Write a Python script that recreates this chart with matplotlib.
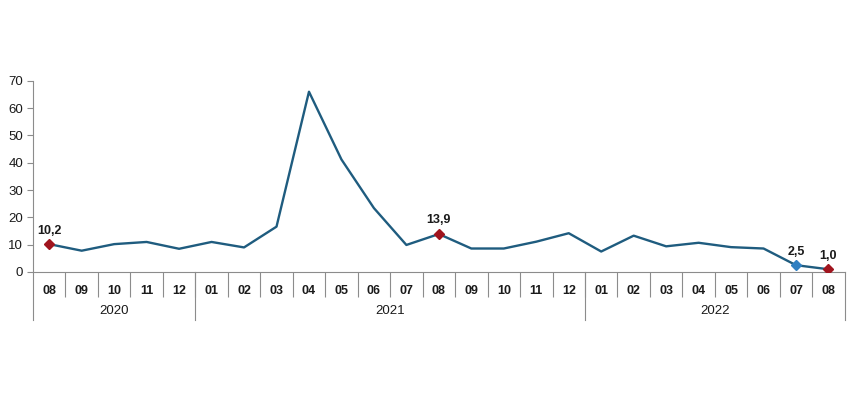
import matplotlib
matplotlib.use("Agg")
import matplotlib.pyplot as plt
import matplotlib.transforms as mtransforms

plt.rcParams['font.family'] = ['Liberation Sans', 'DejaVu Sans']

months = ["08", "09", "10", "11", "12",
          "01", "02", "03", "04", "05", "06", "07", "08", "09", "10", "11", "12",
          "01", "02", "03", "04", "05", "06", "07", "08"]
years = ["2020", "2021", "2022"]
year_counts = [5, 12, 8]
values = [10.2, 7.8, 10.2, 11.0, 8.5,
          11.0, 9.0, 16.6, 66.0, 41.2, 23.4, 9.9, 13.9, 8.6, 8.6, 11.1, 14.2,
          7.5, 13.3, 9.4, 10.7, 9.1, 8.6, 2.5, 1.0]
red_idx = [0, 12, 24]
blue_idx = [23]
labels = {0: "10,2", 12: "13,9", 23: "2,5", 24: "1,0"}

line_color = "#1F5C7F"
red_color = "#A0141E"
blue_color = "#2F7FC1"
axis_color = "#8C8C8C"
text_color = "#1A1A1A"

fig = plt.figure(figsize=(8.5, 4.0), dpi=100)
ax = fig.add_axes([0.0388, 0.32, 0.955, 0.478])

x = list(range(len(values)))
ax.plot(x, values, color=line_color, lw=1.7, zorder=2)
ax.plot([x[i] for i in red_idx], [values[i] for i in red_idx], linestyle="none",
        marker="D", ms=5.5, color=red_color, zorder=3)
ax.plot([x[i] for i in blue_idx], [values[i] for i in blue_idx], linestyle="none",
        marker="D", ms=5.5, color=blue_color, zorder=3)
for i, t in labels.items():
    ax.annotate(t, (x[i], values[i]), xytext=(0, 5.5), textcoords="offset points",
                ha="center", va="bottom", fontsize=9, fontweight="bold", color=text_color)

ax.set_xlim(-0.5, len(values) - 0.5)
ax.set_ylim(0, 70)
ax.set_yticks(range(0, 71, 10))
ax.tick_params(axis="y", direction="out", length=4, width=0.8, color=axis_color,
               labelsize=9.5, pad=3, labelcolor=text_color)

ax.set_xticks(x)
ax.set_xticklabels(months, fontweight="bold")
ax.set_xticks([i + 0.5 for i in range(len(values) - 1)], minor=True)
ax.tick_params(axis="x", which="major", length=0, pad=9, labelsize=9, labelcolor=text_color)
ax.tick_params(axis="x", which="minor", direction="out", length=18, width=0.8, color=axis_color)

for s in ["top", "right"]:
    ax.spines[s].set_visible(False)
for s in ["left", "bottom"]:
    ax.spines[s].set_color(axis_color)
    ax.spines[s].set_linewidth(0.8)

trans = mtransforms.blended_transform_factory(ax.transData, ax.transAxes)
start = -0.5
bounds = [start]
for c in year_counts:
    start += c
    bounds.append(start)
for b in bounds:
    ax.plot([b, b], [0, -0.25], transform=trans, color=axis_color, lw=0.8, clip_on=False)
for k, yr in enumerate(years):
    cx = (bounds[k] + bounds[k + 1]) / 2
    ax.text(cx, -0.205, yr, transform=trans, ha="center", va="center",
            fontsize=9.5, color=text_color)

fig.savefig("out.png", dpi=100)
